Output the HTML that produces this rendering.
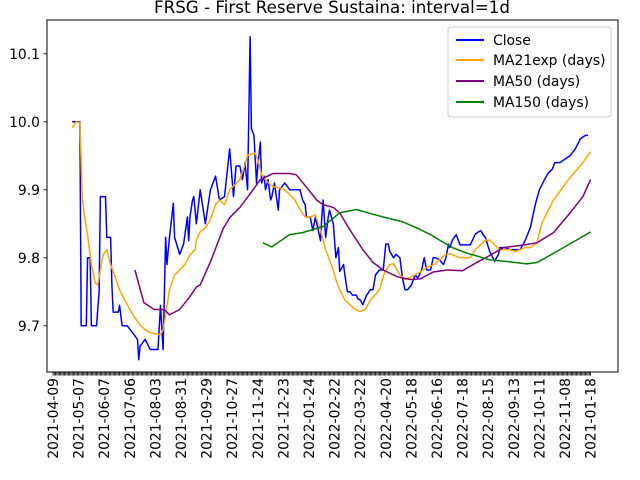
<!DOCTYPE html>
<html><head><meta charset="utf-8"><style>
html,body{margin:0;padding:0;background:#fff;}
svg{display:block;font-family:"DejaVu Sans","Liberation Sans",sans-serif;}
</style></head><body>
<svg id="chart" width="640" height="480" viewBox="0 0 640 480">
<text x="332" y="13" text-anchor="middle" font-size="16.7">FRSG - First Reserve Sustaina: interval=1d</text>
<g id="plot"></g>
<rect x="47" y="20" width="571" height="352" fill="none" stroke="#000" stroke-width="1"/>
<g id="xaxis"></g>
<g id="yaxis"></g>
<g>
<rect x="448" y="27" width="163" height="90" rx="3" fill="#fff" fill-opacity="0.8" stroke="#ccc"/>
<g><line x1="456" y1="40" x2="484" y2="40" stroke="blue" stroke-width="2"/><text x="493" y="45" font-size="13.9">Close</text></g>
<g><line x1="456" y1="60" x2="484" y2="60" stroke="orange" stroke-width="2"/><text x="493" y="65" font-size="13.9">MA21exp (days)</text></g>
<g><line x1="456" y1="81" x2="484" y2="81" stroke="purple" stroke-width="2"/><text x="493" y="86" font-size="13.9">MA50 (days)</text></g>
<g><line x1="456" y1="102" x2="484" y2="102" stroke="green" stroke-width="2"/><text x="493" y="107" font-size="13.9">MA150 (days)</text></g>
</g>
</svg>
<script>
const xTickIdx=[0,20,40,60,80,100,120,140,160,180,200,220,240,260,280,300,320,340,360,380,400,420];
const xTickLabels=["2021-04-09","2021-05-07","2021-06-07","2021-07-06","2021-08-03","2021-08-31","2021-09-29","2021-10-27","2021-11-24","2021-12-23","2022-01-24","2022-02-22","2022-03-22","2022-04-20","2022-05-18","2022-06-16","2022-07-18","2022-08-15","2022-09-13","2022-10-11","2022-11-08","2021-01-18"];
const yTicks=[9.7,9.8,9.9,10.0,10.1];
const yTickLabels=["9.7","9.8","9.9","10.0","10.1"];
const closeIdx=[15,21,22,26,27,29,30,34,36,37,41,42,45,46,47,51,52,54,58,66,67,68,72,76,80,82,84,86,88,89,91,94,95,99,102,105,106,107,109,110,112,115,119,123,127,130,134,138,141,143,146,148,150,152,154,155,157,159,160,162,163,165,166,168,170,171,173,176,177,181,185,189,193,195,197,198,201,203,205,209,210,211,213,215,216,219,221,223,224,227,228,230,232,234,237,238,240,242,245,248,250,252,255,258,260,262,263,266,268,271,273,275,277,280,283,285,288,290,292,295,297,299,302,305,307,309,310,312,315,318,320,326,330,334,338,341,345,348,349,353,357,361,365,369,373,377,380,384,387,390,392,396,400,404,408,412,416,418,420];
const closeVals=[10.0,10.0,9.70,9.70,9.80,9.80,9.70,9.70,9.75,9.89,9.89,9.83,9.83,9.76,9.72,9.72,9.73,9.70,9.70,9.68,9.65,9.67,9.68,9.665,9.665,9.665,9.73,9.665,9.83,9.79,9.83,9.88,9.83,9.805,9.82,9.86,9.825,9.86,9.885,9.89,9.85,9.90,9.85,9.90,9.92,9.885,9.89,9.96,9.89,9.935,9.935,9.915,9.94,9.90,10.125,9.99,9.98,9.91,9.935,9.97,9.91,9.92,9.90,9.915,9.885,9.89,9.91,9.87,9.90,9.91,9.90,9.90,9.90,9.885,9.878,9.86,9.86,9.84,9.86,9.825,9.86,9.885,9.83,9.86,9.87,9.85,9.80,9.815,9.78,9.79,9.775,9.75,9.75,9.745,9.745,9.74,9.738,9.731,9.745,9.753,9.753,9.775,9.782,9.782,9.82,9.82,9.81,9.80,9.805,9.80,9.77,9.753,9.753,9.76,9.775,9.77,9.782,9.80,9.782,9.782,9.80,9.80,9.797,9.79,9.80,9.82,9.815,9.826,9.834,9.819,9.819,9.819,9.835,9.84,9.829,9.81,9.795,9.805,9.815,9.815,9.812,9.812,9.812,9.826,9.845,9.88,9.90,9.915,9.925,9.93,9.94,9.94,9.945,9.95,9.96,9.975,9.98,9.98];
const emaIdx=[15,18,21,23,25,27,30,33,35,37,39,42,45,48,52,56,60,64,68,72,76,80,84,86,88,91,95,99,103,107,111,112,115,119,123,127,130,134,138,142,146,150,152,158,160,163,166,170,173,177,181,185,189,193,197,201,205,209,213,216,219,221,224,228,232,236,240,244,248,252,255,259,263,266,268,271,275,279,283,287,291,295,298,302,306,310,318,326,330,334,338,341,345,349,353,357,361,365,369,373,378,382,391,404,414,420];
const emaVals=[9.991,10.0,9.999,9.885,9.856,9.834,9.79,9.763,9.76,9.782,9.804,9.812,9.79,9.775,9.753,9.738,9.724,9.712,9.701,9.694,9.69,9.688,9.687,9.694,9.716,9.753,9.775,9.782,9.79,9.804,9.812,9.826,9.838,9.844,9.856,9.878,9.885,9.878,9.9,9.907,9.915,9.937,9.951,9.954,9.944,9.922,9.915,9.907,9.904,9.903,9.9,9.893,9.885,9.871,9.86,9.86,9.863,9.841,9.812,9.797,9.782,9.768,9.753,9.738,9.731,9.724,9.721,9.724,9.738,9.746,9.753,9.778,9.79,9.791,9.785,9.775,9.768,9.771,9.775,9.779,9.785,9.788,9.79,9.797,9.804,9.806,9.80,9.80,9.812,9.819,9.826,9.826,9.819,9.812,9.812,9.812,9.809,9.812,9.815,9.815,9.822,9.851,9.885,9.918,9.94,9.956];
const ma50Idx=[64,71,79,87,91,99,107,112,115,123,133,138,146,154,162,172,185,190,198,206,211,219,224,232,242,250,258,269,279,287,297,308,320,331,339,352,365,378,391,404,414,420];
const ma50Vals=[9.782,9.734,9.724,9.724,9.716,9.724,9.743,9.757,9.76,9.794,9.843,9.859,9.874,9.894,9.915,9.924,9.924,9.922,9.904,9.885,9.878,9.874,9.866,9.841,9.812,9.793,9.782,9.772,9.768,9.769,9.779,9.782,9.781,9.793,9.801,9.815,9.818,9.822,9.837,9.866,9.89,9.915];
const ma150Idx=[164,171,177,185,195,211,224,237,248,258,273,284,295,302,312,323,334,341,357,370,378,385,396,409,420];
const ma150Vals=[9.822,9.816,9.824,9.834,9.837,9.846,9.866,9.871,9.865,9.86,9.853,9.844,9.834,9.826,9.815,9.807,9.801,9.797,9.794,9.791,9.793,9.80,9.812,9.826,9.838];

const NS="http://www.w3.org/2000/svg";
const L=47,R=618,T=20,B=372;
const XMIN=-4.7,XMAX=441.4,YMIN=9.632,YMAX=10.1497;
function xs(i){return L+(i-XMIN)/(XMAX-XMIN)*(R-L);}
function ys(v){return B-(v-YMIN)/(YMAX-YMIN)*(B-T);}
const plot=document.getElementById('plot');
function series(idx,vals,color,name){
  const p=document.createElementNS(NS,'polyline');
  p.setAttribute('points',idx.map((d,k)=>xs(d).toFixed(2)+','+ys(vals[k]).toFixed(2)).join(' '));
  p.setAttribute('fill','none');p.setAttribute('stroke',color);p.setAttribute('stroke-width','1.5');
  p.setAttribute('stroke-linejoin','round');
  
  
  plot.appendChild(p);
}
series(closeIdx,closeVals,'blue','close-line');
series(emaIdx,emaVals,'orange','ma21exp-line');
series(ma50Idx,ma50Vals,'purple','ma50-line');
series(ma150Idx,ma150Vals,'green','ma150-line');

const xa=document.getElementById('xaxis');
let d='';
for(let i=0;i<=420;i++){const x=xs(i).toFixed(2);d+='M'+x+' '+B+'V'+(B+3.5);}
const tp=document.createElementNS(NS,'path');
tp.setAttribute('d',d);tp.setAttribute('stroke','#000');tp.setAttribute('stroke-width','0.8');


xa.appendChild(tp);
xTickIdx.forEach((ix,k)=>{
  const t=document.createElementNS(NS,'text');
  const x=xs(ix)+5;
  t.setAttribute('x',x);t.setAttribute('y',378);
  t.setAttribute('transform','rotate(-90 '+x+' 378)');
  t.setAttribute('text-anchor','end');t.setAttribute('font-size','13.9');
  t.textContent=xTickLabels[k];
  
  
  xa.appendChild(t);
});
const ya=document.getElementById('yaxis');
yTicks.forEach((v,k)=>{
  const y=ys(v);
  const ln=document.createElementNS(NS,'line');
  ln.setAttribute('x1',L-3.5);ln.setAttribute('x2',L);ln.setAttribute('y1',y);ln.setAttribute('y2',y);
  ln.setAttribute('stroke','#000');ln.setAttribute('stroke-width','0.8');
  
  
  ya.appendChild(ln);
  const t=document.createElementNS(NS,'text');
  t.setAttribute('x',L-7);t.setAttribute('y',y+5);t.setAttribute('text-anchor','end');t.setAttribute('font-size','13.9');
  t.textContent=yTickLabels[k];
  
  
  ya.appendChild(t);
});
</script>
</body></html>
